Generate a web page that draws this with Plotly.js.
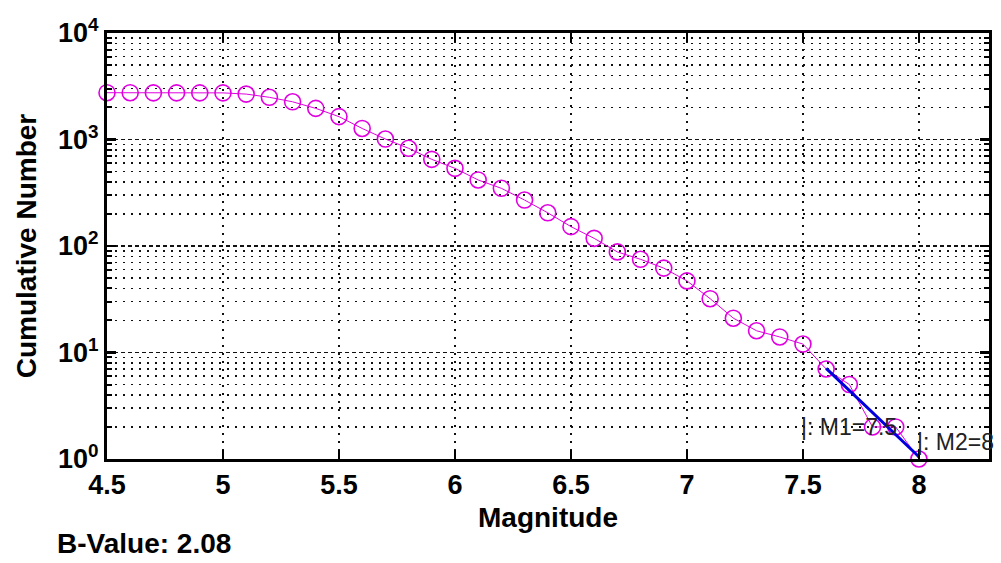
<!DOCTYPE html>
<html>
<head>
<meta charset="utf-8">
<script src="https://cdn.plot.ly/plotly-3.0.1.min.js"></script>
<style>html,body{margin:0;padding:0;background:#fff;}#chart{width:1001px;height:563px;}</style>
</head>
<body>
<div id="chart"></div>
<script>
// Magnitude bins (x) and cumulative number of events (y)
const magnitude = [4.5, 4.6, 4.7, 4.8, 4.9, 5.0, 5.1, 5.2, 5.3, 5.4, 5.5, 5.6, 5.7, 5.8, 5.9, 6.0, 6.1, 6.2,
                   6.3, 6.4, 6.5, 6.6, 6.7, 6.8, 6.9, 7.0, 7.1, 7.2, 7.3, 7.4, 7.5, 7.6, 7.7, 7.8, 7.9, 8.0];
const cumulativeNumber = [2750, 2750, 2740, 2740, 2740, 2740, 2670, 2490, 2260, 1960, 1640, 1270, 1010, 827, 651, 536, 417, 348,
                          270, 205, 152, 118, 88, 75, 62, 47, 32, 21, 16, 14, 12, 7, 5, 2, 2, 1];
// Gutenberg-Richter fit segment between M1 and M2
const fitMagnitude = [7.6, 8.0];
const fitNumber = [7.1, 1.05];
const bValue = "2.08";
const m1 = 7.5, m2 = 8;
const m1LabelN = 2.0, m2LabelN = 1.45;
const xTicks = [4.5, 5, 5.5, 6, 6.5, 7, 7.5, 8];
const xTickText = ["4.5", "5", "5.5", "6", "6.5", "7", "7.5", "8"];
const yTicks = [1, 10, 100, 1000, 10000];
const yTickText = ["10<sup>0</sup>", "10<sup>1</sup>", "10<sup>2</sup>", "10<sup>3</sup>", "10<sup>4</sup>"];

const minorVals = [];
for (let d = 1; d <= 1000; d *= 10) for (let k = 2; k <= 9; k++) minorVals.push(k * d);

const FONT = "Liberation Sans, Arial, sans-serif";

const traces = [
  {
    x: magnitude, y: cumulativeNumber, type: "scatter", mode: "lines+markers",
    line: {color: "#e000e0", width: 1},
    marker: {symbol: "circle-open", size: 16, color: "#e000e0", line: {width: 1.6, color: "#e000e0"}},
    cliponaxis: false, hoverinfo: "skip"
  },
  {
    x: fitMagnitude, y: fitNumber, type: "scatter", mode: "lines",
    line: {color: "#0000dd", width: 3}, cliponaxis: false, hoverinfo: "skip"
  }
];

const layout = {
  width: 1001, height: 563,
  margin: {l: 107, r: 12, t: 33, b: 104, pad: 0},
  paper_bgcolor: "#fff", plot_bgcolor: "#fff",
  showlegend: false,
  font: {family: FONT, size: 27, color: "#000"},
  xaxis: {
    range: [4.5, 8.302], type: "linear",
    tickvals: xTicks, ticktext: xTickText,
    ticks: "inside", ticklen: 9, tickwidth: 2.5, tickcolor: "#000",
    showline: true, linewidth: 3, linecolor: "#000", mirror: "ticks",
    showgrid: true, gridcolor: "#111", gridwidth: 1.5, griddash: "2px,6px",
    zeroline: false,
    tickfont: {family: FONT, size: 27, color: "#000", weight: "bold"},
    title: {text: "Magnitude", font: {family: FONT, size: 28, color: "#000", weight: "bold"}, standoff: 8}
  },
  yaxis: {
    type: "log", range: [0, 4],
    tickvals: yTicks, ticktext: yTickText,
    ticks: "inside", ticklen: 9, tickwidth: 2.5, tickcolor: "#000",
    showline: true, linewidth: 3, linecolor: "#000", mirror: "ticks",
    showgrid: true, gridcolor: "#111", gridwidth: 1.5, griddash: "4px,3px",
    zeroline: false,
    minor: {tickvals: minorVals, ticks: "inside", ticklen: 5, tickwidth: 2, tickcolor: "#000",
            showgrid: true, gridcolor: "#111", gridwidth: 1.5, griddash: "2px,6px"},
    tickfont: {family: FONT, size: 27, color: "#000", weight: "bold"},
    title: {text: "Cumulative Number", font: {family: FONT, size: 28, color: "#000", weight: "bold"}, standoff: 14}
  },
  annotations: [
    {x: m1, y: Math.log10(m1LabelN), xref: "x", yref: "y", text: "|: M1=" + m1, showarrow: false,
     xanchor: "left", yanchor: "middle", xshift: -4,
     font: {family: FONT, size: 23, color: "#222"}},
    {x: m2, y: Math.log10(m2LabelN), xref: "x", yref: "y", text: "|: M2=" + m2, showarrow: false,
     xanchor: "left", yanchor: "middle", xshift: -4,
     font: {family: FONT, size: 23, color: "#222"}},
    {x: -0.059, y: -0.198, xref: "paper", yref: "paper", text: "B-Value: " + bValue, showarrow: false,
     xanchor: "left", yanchor: "middle",
     font: {family: FONT, size: 28, color: "#000", weight: "bold"}}
  ]
};

Plotly.newPlot("chart", traces, layout, {staticPlot: true, displayModeBar: false});
</script>
</body>
</html>
